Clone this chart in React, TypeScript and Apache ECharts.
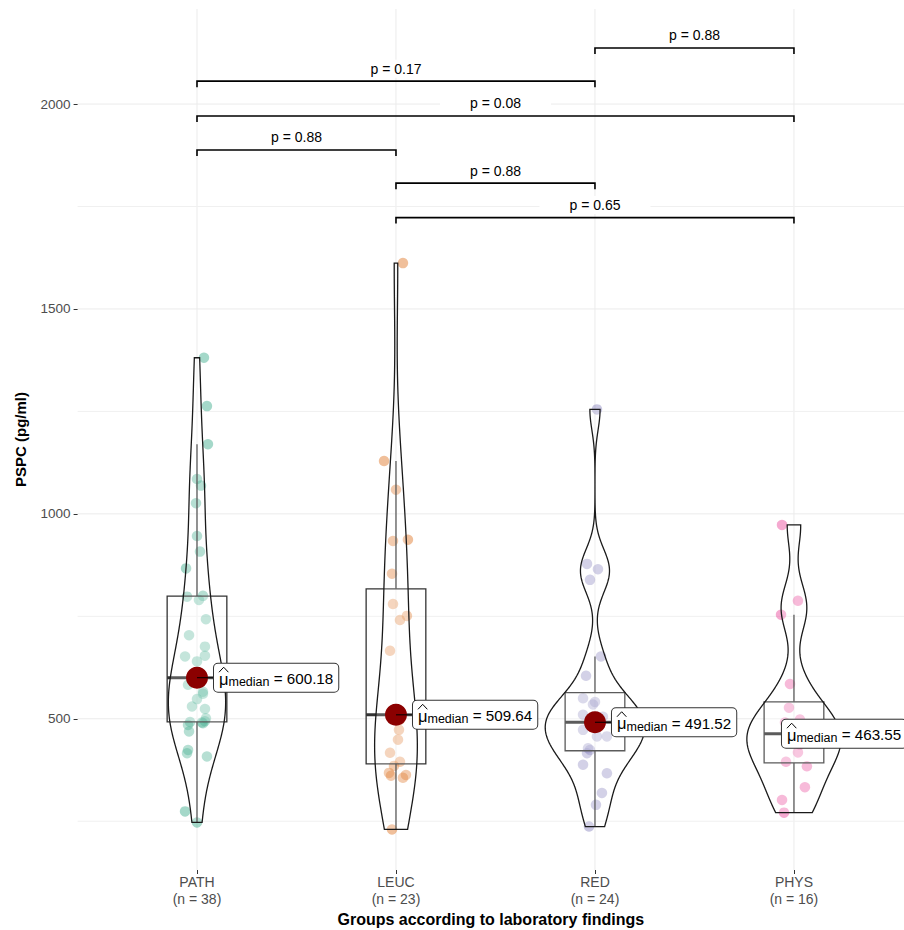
import React, { useEffect, useRef } from "react";
import * as echarts from "echarts";

const categories = ["PATH", "LEUC", "RED", "PHYS"];
const groupColors = ["#1B9E77", "#D95F02", "#7570B3", "#E7298A"];

const pathValues = [247, 274, 408, 416, 424, 469, 485, 489, 491, 492, 494, 501, 524, 530, 548, 561, 566, 583, 595, 605.36, 640, 652, 654, 676, 704, 743, 790, 798, 800, 867, 908, 946, 1026, 1069, 1085, 1170, 1263, 1381];
const pathJitter = [0, -0.06, 0.05, -0.05, -0.045, -0.04, -0.045, 0.03, 0.025, -0.035, 0.04, 0.045, 0.04, -0.025, 0, 0.03, 0.03, -0.045, -0.025, 0.015, 0, -0.06, 0.04, 0.04, -0.04, 0.045, 0.01, -0.05, 0.03, -0.055, 0.015, 0, -0.005, 0.02, 0, 0.055, 0.05, 0.035];

const leucValues = [230, 356, 361, 363, 368, 385, 395, 417, 449, 473, 498, 509.64, 520, 666, 741, 751, 780, 854, 934, 937, 1059, 1129, 1612];
const leucJitter = [-0.02, 0.035, -0.025, 0.05, -0.035, -0.01, 0.02, -0.03, 0.01, 0.015, 0.02, 0, -0.015, -0.03, 0.02, 0.055, -0.015, -0.02, -0.015, 0.06, 0, -0.06, 0.035];

const redValues = [237, 290, 319, 367, 388, 416, 424, 428, 457, 457, 473, 485, 498.04, 505, 510, 535, 541, 550, 605, 652, 839, 865, 878, 1255];
const redJitter = [-0.03, 0.005, 0.035, 0.06, -0.06, -0.04, -0.025, -0.035, 0.01, 0.06, -0.06, 0.025, -0.01, 0.04, -0.06, -0.01, 0, -0.06, -0.045, 0.03, -0.025, 0.015, -0.04, 0.01];

const physValues = [271, 302, 333, 384, 395, 418, 437, 455, 472.1, 491, 498, 527, 585, 754, 788, 973];
const physJitter = [-0.05, -0.06, 0.055, 0.065, -0.04, 0.02, 0.03, -0.015, -0.04, -0.045, 0.03, -0.025, -0.02, -0.065, 0.02, -0.06];

const yMajorTicks = [500, 1000, 1500, 2000];
const yMinorTicks = [250, 750, 1250, 1750];

const bracketFrom = [3, 1, 1, 1, 2, 2];
const bracketTo = [4, 3, 4, 2, 3, 4];
const bracketLevel = [2137, 2056, 1971, 1888, 1807, 1723];
const bracketLabels = ["p = 0.88", "p = 0.17", "p = 0.08", "p = 0.88", "p = 0.88", "p = 0.65"];

const groupValues = [pathValues, leucValues, redValues, physValues];
const groupJitter = [pathJitter, leucJitter, redJitter, physJitter];

const FONT = "'Liberation Sans', Arial, Helvetica, sans-serif";
const Y_MIN = 131;
const Y_MAX = 2232;
const X_MIN = 0.4;
const X_MAX = 4.553;
const labelShift = [17, 17, 17, -12];

function quantile(sorted: number[], p: number) {
  const h = (sorted.length - 1) * p;
  const lo = Math.floor(h);
  const hi = Math.min(lo + 1, sorted.length - 1);
  return sorted[lo] + (h - lo) * (sorted[hi] - sorted[lo]);
}

function boxStats(vals: number[]) {
  const s = [...vals].sort((a, b) => a - b);
  const q1 = quantile(s, 0.25);
  const med = quantile(s, 0.5);
  const q3 = quantile(s, 0.75);
  const iqr = q3 - q1;
  const lo = Math.min(...s.filter((v) => v >= q1 - 1.5 * iqr));
  const hi = Math.max(...s.filter((v) => v <= q3 + 1.5 * iqr));
  return { s, q1, med, q3, lo, hi, iqr };
}

function kde(vals: number[]) {
  const st = boxStats(vals);
  const n = vals.length;
  const mean = vals.reduce((a, b) => a + b, 0) / n;
  const sd = Math.sqrt(vals.reduce((a, b) => a + (b - mean) * (b - mean), 0) / (n - 1));
  const bw = 0.9 * Math.min(sd, st.iqr / 1.34) * Math.pow(n, -0.2);
  const mn = st.s[0];
  const mx = st.s[n - 1];
  const ys: number[] = [];
  const ds: number[] = [];
  const N = 256;
  for (let i = 0; i < N; i++) {
    const y = mn + ((mx - mn) * i) / (N - 1);
    let d = 0;
    for (const v of vals) {
      const z = (y - v) / bw;
      d += Math.exp(-0.5 * z * z);
    }
    d = d / (n * bw * Math.sqrt(2 * Math.PI));
    ys.push(y);
    ds.push(d);
  }
  return { ys, ds };
}

export default function App() {
  const ref = useRef<HTMLDivElement>(null);
  useEffect(() => {
    if (!ref.current) return;
    const chart = echarts.init(ref.current, null, { renderer: "svg" });
    const stats = groupValues.map(boxStats);
    const dens = groupValues.map(kde);
    const maxD = Math.max(...dens.map((d) => Math.max(...d.ds)));

    const gridData: number[][] = [];
    categories.forEach((_, i) => gridData.push([i + 1, Y_MIN, 0]));
    yMajorTicks.forEach((v) => gridData.push([X_MIN, v, 1]));
    yMinorTicks.forEach((v) => gridData.push([X_MIN, v, 2]));

    const option: any = {
      animation: false,
      textStyle: { fontFamily: FONT },
      grid: { left: 77.6, right: 0, top: 9, bottom: 60, containLabel: false, outerBoundsMode: "none" },
      xAxis: {
        type: "value",
        min: X_MIN,
        max: X_MAX,
        axisLine: { show: false },
        splitLine: { show: false },
        axisTick: { show: true, customValues: [1, 2, 3, 4], length: 4, lineStyle: { color: "#333", width: 1 } },
        axisLabel: {
          customValues: [1, 2, 3, 4],
          formatter: (v: number) => {
            const i = Math.round(v) - 1;
            return categories[i] + "\n(n = " + groupValues[i].length + ")";
          },
          color: "#4D4D4D",
          fontSize: 14,
          lineHeight: 17,
          margin: 3,
          fontFamily: FONT,
        },
        name: "Groups according to laboratory findings",
        nameLocation: "middle",
        nameGap: 35,
        nameTextStyle: { fontWeight: "bold", fontSize: 16, color: "#000", fontFamily: FONT },
      },
      yAxis: {
        type: "value",
        min: Y_MIN,
        max: Y_MAX,
        axisLine: { show: false },
        splitLine: { show: false },
        axisTick: { show: true, customValues: yMajorTicks, length: 4, lineStyle: { color: "#333", width: 1 } },
        axisLabel: {
          customValues: yMajorTicks,
          formatter: (v: number) => String(v),
          color: "#4D4D4D",
          fontSize: 13.5,
          margin: 7,
          fontFamily: FONT,
        },
        name: "PSPC (pg/ml)",
        nameLocation: "middle",
        nameGap: 50,
        nameTextStyle: { fontWeight: "bold", fontSize: 15, color: "#000", fontFamily: FONT },
      },
      series: [
        {
          type: "custom",
          z: 0,
          silent: true,
          data: gridData,
          renderItem: (params: any, api: any) => {
            const cs = params.coordSys;
            const kind = api.value(2);
            if (kind === 0) {
              const p = api.coord([api.value(0), Y_MIN]);
              return { type: "line", shape: { x1: p[0], y1: cs.y, x2: p[0], y2: cs.y + cs.height }, style: { stroke: "#EBEBEB", lineWidth: 1 } };
            }
            const p = api.coord([X_MIN, api.value(1)]);
            return {
              type: "line",
              shape: { x1: cs.x, y1: p[1], x2: cs.x + cs.width, y2: p[1] },
              style: { stroke: kind === 1 ? "#EBEBEB" : "#F0F0F0", lineWidth: 1 },
            };
          },
        },
        ...groupValues.map((vals, g) => ({
          type: "scatter",
          z: 1,
          silent: true,
          symbolSize: 10.5,
          data: vals.map((v, i) => [g + 1 + groupJitter[g][i], v]),
          itemStyle: { color: groupColors[g], opacity: 0.4 },
        })),
        {
          type: "custom",
          z: 2,
          silent: true,
          data: stats.map((s, g) => [g + 1, s.med, g]),
          renderItem: (params: any, api: any) => {
            const g = api.value(2);
            const s = stats[g];
            const cx = g + 1;
            const tl = api.coord([cx - 0.15, s.q3]);
            const br = api.coord([cx + 0.15, s.q1]);
            const hiP = api.coord([cx, s.hi]);
            const loP = api.coord([cx, s.lo]);
            const medL = api.coord([cx - 0.15, s.med]);
            const medR = api.coord([cx + 0.15, s.med]);
            const st = { stroke: "#333333", lineWidth: 1.3 };
            return {
              type: "group",
              children: [
                { type: "line", shape: { x1: hiP[0], y1: hiP[1], x2: hiP[0], y2: tl[1] }, style: st },
                { type: "line", shape: { x1: loP[0], y1: loP[1], x2: loP[0], y2: br[1] }, style: st },
                {
                  type: "rect",
                  shape: { x: tl[0], y: tl[1], width: br[0] - tl[0], height: br[1] - tl[1] },
                  style: { fill: "rgba(255,255,255,0.2)", stroke: "#333333", lineWidth: 1.3 },
                },
                { type: "line", shape: { x1: medL[0], y1: medL[1], x2: medR[0], y2: medR[1] }, style: { stroke: "#333333", lineWidth: 3 } },
              ],
            };
          },
        },
        {
          type: "custom",
          z: 3,
          silent: true,
          data: stats.map((s, g) => [g + 1, s.med, g]),
          renderItem: (params: any, api: any) => {
            const g = api.value(2);
            const d = dens[g];
            const cx = g + 1;
            const left: number[][] = [];
            const right: number[][] = [];
            for (let i = 0; i < d.ys.length; i++) {
              const hw = (d.ds[i] / maxD) * 0.25;
              left.push(api.coord([cx - hw, d.ys[i]]));
              right.push(api.coord([cx + hw, d.ys[i]]));
            }
            const pts = left.concat(right.reverse());
            return {
              type: "polygon",
              shape: { points: pts },
              style: { fill: "rgba(255,255,255,0.2)", stroke: "#1A1A1A", lineWidth: 1.3 },
            };
          },
        },
        {
          type: "custom",
          z: 4,
          silent: true,
          data: stats.map((s, g) => [g + 1, s.med, g]),
          renderItem: (params: any, api: any) => {
            const g = api.value(2);
            const p = api.coord([api.value(0), api.value(1)]);
            const lx = p[0] + labelShift[g];
            const cy = p[1];
            const medTxt = (Math.round(stats[g].med * 100) / 100).toFixed(2);
            return {
              type: "group",
              children: [
                { type: "circle", shape: { cx: p[0], cy, r: 11 }, style: { fill: "#8B0000" } },
                { type: "line", shape: { x1: p[0], y1: cy, x2: lx, y2: cy }, style: { stroke: "#000", lineWidth: 1 } },
                {
                  type: "text",
                  x: lx,
                  y: cy,
                  style: {
                    text: "{mu|\u03BC}{sub|median}{eq| = " + medTxt + "}",
                    align: "left",
                    verticalAlign: "middle",
                    backgroundColor: "#FFFFFF",
                    borderColor: "#333333",
                    borderWidth: 1,
                    borderRadius: 4,
                    padding: [5, 5, 3, 5],
                    rich: {
                      mu: { fontSize: 16.5, fontFamily: FONT, fill: "#000", lineHeight: 20 },
                      sub: { fontSize: 12.5, fontFamily: FONT, fill: "#000", lineHeight: 12, verticalAlign: "bottom" },
                      eq: { fontSize: 15.2, fontFamily: FONT, fill: "#000", lineHeight: 20 },
                    },
                  },
                },
                {
                  type: "polyline",
                  shape: { points: [[lx + 5, cy - 5.5], [lx + 9.7, cy - 10.5], [lx + 14.4, cy - 5.5]] },
                  style: { stroke: "#000", lineWidth: 1, fill: null },
                },
              ],
            };
          },
        },
        {
          type: "custom",
          z: 5,
          silent: true,
          data: bracketLevel.map((y, i) => [bracketFrom[i], y, bracketTo[i], i]),
          renderItem: (params: any, api: any) => {
            const i = api.value(3);
            const p1 = api.coord([api.value(0), api.value(1)]);
            const p2 = api.coord([api.value(2), api.value(1)]);
            return {
              type: "group",
              children: [
                {
                  type: "text",
                  x: (p1[0] + p2[0]) / 2,
                  y: p1[1] - 12.5,
                  style: {
                    text: bracketLabels[i],
                    align: "center",
                    verticalAlign: "middle",
                    fontSize: 14,
                    fontFamily: FONT,
                    fill: "#000",
                    backgroundColor: "#FFFFFF",
                    padding: [2, 30, 2, 30],
                  },
                },
                {
                  type: "polyline",
                  shape: { points: [[p1[0], p1[1] + 6], [p1[0], p1[1]], [p2[0], p2[1]], [p2[0], p2[1] + 6]] },
                  style: { stroke: "#000", lineWidth: 1.6, fill: null },
                },
              ],
            };
          },
        },
      ],
    };
    chart.setOption(option);
    return () => chart.dispose();
  }, []);
  return <div ref={ref} style={{ position: "absolute", left: 0, top: 0, width: 904, height: 930 }} />;
}
